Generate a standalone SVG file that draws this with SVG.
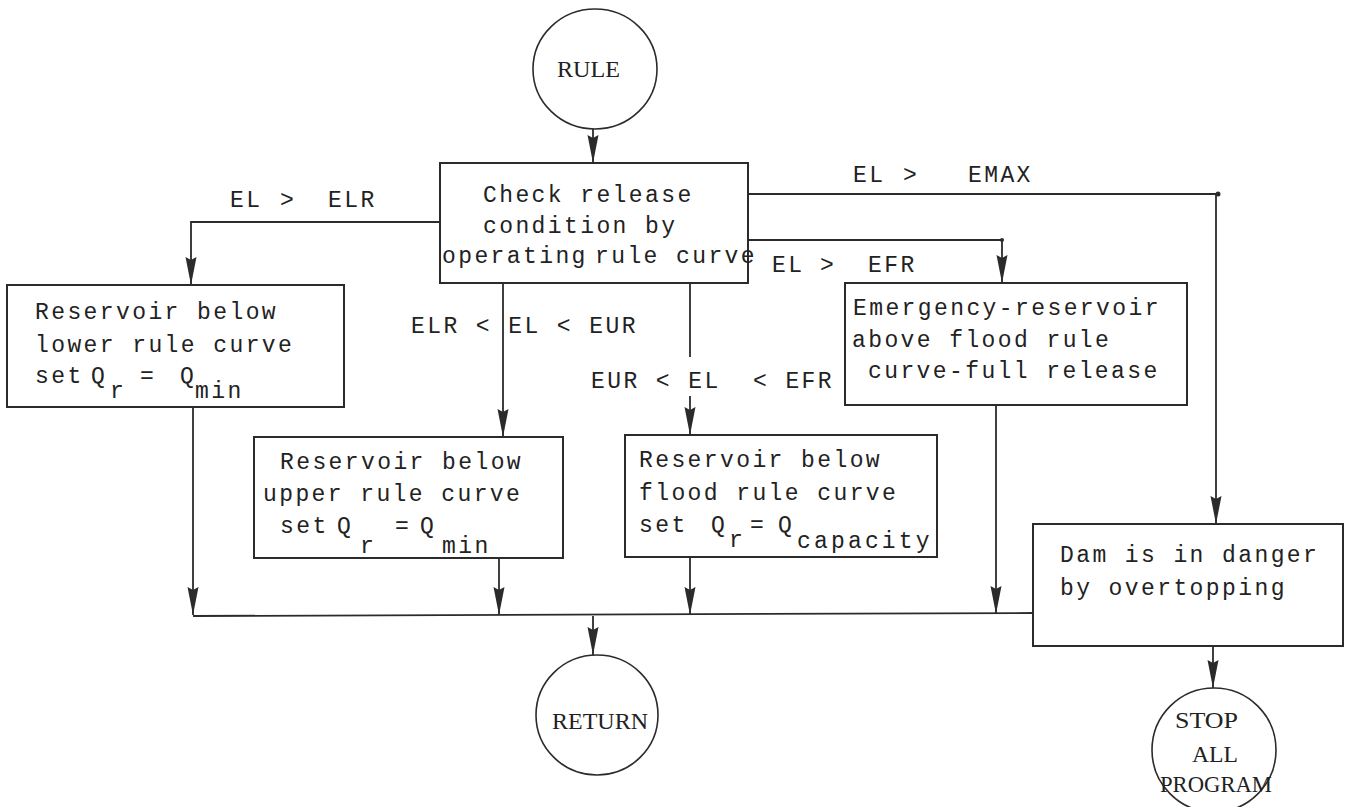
<svg xmlns="http://www.w3.org/2000/svg" width="1354" height="807" viewBox="0 0 1354 807">
<style>
.bg{fill:#ffffff}
.box{fill:none;stroke:#2b2b2b;stroke-width:2}
.term{fill:none;stroke:#2b2b2b;stroke-width:1.6}
.ln{fill:none;stroke:#2b2b2b;stroke-width:1.8}
.t{font-family:"Liberation Mono","DejaVu Sans Mono",monospace;font-size:23px;letter-spacing:2.4px;fill:#222}
.s{font-family:"Liberation Serif","DejaVu Serif",serif;font-size:23px;fill:#222}
</style>
<defs>
<marker id="arr" viewBox="0 0 28 12" refX="28" refY="6" markerWidth="28" markerHeight="12" markerUnits="userSpaceOnUse" orient="auto">
<path d="M0,0.5 L28,6 L0,11.5 L3,6 Z" fill="#2b2b2b"/>
</marker>
</defs>
<rect class="bg" x="0" y="0" width="1354" height="807"/>

<g id="connectors">
<path class="ln" d="M593,129 L593,163" marker-end="url(#arr)"/>
<path class="ln" d="M440,222 L191,222 L191,285" marker-end="url(#arr)"/>
<path class="ln" d="M503,283 L503,437" marker-end="url(#arr)"/>
<path class="ln" d="M690,283 L690,357"/>
<path class="ln" d="M690,396 L690,435" marker-end="url(#arr)"/>
<path class="ln" d="M748,240 L1002,240 L1002,283" marker-end="url(#arr)"/>
<path class="ln" d="M748,194 L1216,194 L1216,524" marker-end="url(#arr)"/>
<circle cx="1218" cy="194" r="2.5" fill="#2b2b2b"/>
<circle cx="1002" cy="240" r="2" fill="#2b2b2b"/>
<path class="ln" d="M193,407 L193,615" marker-end="url(#arr)"/>
<path class="ln" d="M499,558 L499,615" marker-end="url(#arr)"/>
<path class="ln" d="M690,557 L690,615" marker-end="url(#arr)"/>
<path class="ln" d="M996,405 L996,614" marker-end="url(#arr)"/>
<path class="ln" d="M193,616 L1033,613"/>
<path class="ln" d="M593,616 L593,655" marker-end="url(#arr)"/>
<path class="ln" d="M1213,646 L1213,688" marker-end="url(#arr)"/>
<g id="labels">
<text class="t" x="230" y="207">EL</text><text class="t" x="280" y="207">&gt;</text><text class="t" x="328" y="207">ELR</text>
<text class="t" x="853" y="182">EL</text><text class="t" x="903" y="182">&gt;</text><text class="t" x="968" y="182">EMAX</text>
<text class="t" x="772" y="272">EL</text><text class="t" x="820" y="272">&gt;</text><text class="t" x="868" y="272">EFR</text>
<text class="t" x="411" y="333">ELR &lt; EL &lt; EUR</text>
<text class="t" x="591" y="388">EUR &lt; EL</text><text class="t" x="753" y="388">&lt; EFR</text>
</g>
</g>

<g id="rule">
<ellipse class="term" cx="595" cy="69" rx="62" ry="60"/>
<text class="s" x="557" y="77" textLength="63" lengthAdjust="spacingAndGlyphs">RULE</text>
</g>

<g id="check">
<rect class="box" x="440" y="163" width="308" height="120"/>
<text class="t" x="483" y="202">Check release</text>
<text class="t" x="483" y="233">condition by</text>
<text class="t" x="442" y="263">operating</text>
<text class="t" x="595" y="263">rule curve</text>
</g>

<g id="lower">
<rect class="box" x="7" y="285" width="337" height="122"/>
<text class="t" x="35" y="319">Reservoir below</text>
<text class="t" x="35" y="352">lower rule curve</text>
<text class="t" x="35" y="383">set</text>
<text class="t" x="91" y="383">Q</text>
<text class="t" x="110" y="398">r</text>
<text class="t" x="140" y="383">=</text>
<text class="t" x="180" y="383">Q</text>
<text class="t" x="195" y="398">min</text>
</g>

<g id="upper">
<rect class="box" x="254" y="437" width="309" height="121"/>
<text class="t" x="280" y="469">Reservoir below</text>
<text class="t" x="263" y="501">upper rule curve</text>
<text class="t" x="280" y="533">set</text>
<text class="t" x="337" y="533">Q</text>
<text class="t" x="360" y="553">r</text>
<text class="t" x="395" y="533">=</text>
<text class="t" x="420" y="533">Q</text>
<text class="t" x="442" y="553">min</text>
</g>

<g id="flood">
<rect class="box" x="625" y="435" width="312" height="122"/>
<text class="t" x="639" y="467">Reservoir below</text>
<text class="t" x="639" y="500">flood rule curve</text>
<text class="t" x="639" y="532">set</text>
<text class="t" x="711" y="532">Q</text>
<text class="t" x="729" y="547">r</text>
<text class="t" x="750" y="532">=</text>
<text class="t" x="778" y="532">Q</text>
<text class="t" x="797" y="548" textLength="135" lengthAdjust="spacing">capacity</text>
</g>

<g id="emergency">
<rect class="box" x="845" y="283" width="342" height="122"/>
<text class="t" x="853" y="315">Emergency-reservoir</text>
<text class="t" x="852" y="347">above flood rule</text>
<text class="t" x="868" y="378">curve-full release</text>
</g>

<g id="danger">
<rect class="box" x="1033" y="524" width="310" height="122"/>
<text class="t" x="1060" y="562">Dam is in danger</text>
<text class="t" x="1060" y="595">by overtopping</text>
</g>

<g id="return">
<ellipse class="term" cx="597" cy="715" rx="61" ry="60"/>
<text class="s" x="552" y="729" textLength="96" lengthAdjust="spacingAndGlyphs">RETURN</text>
</g>

<g id="stop">
<ellipse class="term" cx="1214" cy="750" rx="62" ry="62"/>
<text class="s" x="1175" y="728" textLength="63" lengthAdjust="spacingAndGlyphs">STOP</text>
<text class="s" x="1192" y="762" textLength="46" lengthAdjust="spacingAndGlyphs">ALL</text>
<text class="s" x="1160" y="792" textLength="112" lengthAdjust="spacingAndGlyphs">PROGRAM</text>
</g>
</svg>
